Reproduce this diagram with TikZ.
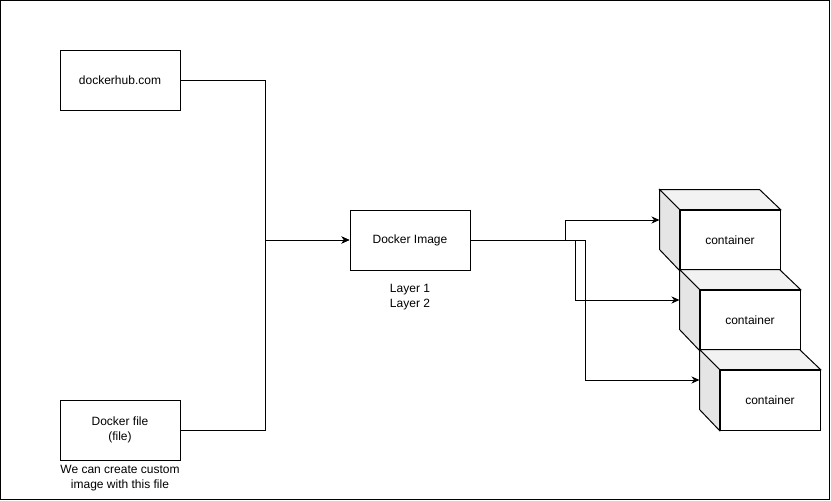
\documentclass[tikz,border=0pt]{standalone}
\usepackage{fontspec}
\setmainfont{Liberation Sans}
\usepackage{tikz}
\usetikzlibrary{positioning,arrows.meta}

\begin{document}
\begin{tikzpicture}[x=1pt, y=-1pt, line width=1pt,
    font=\fontsize{12}{15}\selectfont,
    box/.style={draw, fill=white, minimum width=120pt, minimum height=60pt, inner sep=0pt, align=center},
    front/.style={draw, fill=white, minimum width=100pt, minimum height=60pt, inner sep=0pt},
    topface/.style={draw, fill=black!5, line join=miter},
    sideface/.style={draw, fill=black!10, line join=miter},
    note/.style={inner sep=0pt, align=center},
    arr/.style={-{Stealth[length=8pt, width=7pt, inset=2.5pt]}, line width=1pt}]
  \useasboundingbox (0,0) rectangle (831,501);
  \draw (0.5,0.5) rectangle (829.5,499.5);

  \node[box] (hub) at (120,80) {dockerhub.com};
  \node[box] (df) at (120,430) {Docker file\\(file)};
  \node[note, below=4pt of df] (dfnote) {We can create custom\\image with this file};
  \node[box] (img) at (410,240) {Docker Image};
  \node[note, below=13pt of img] (layers) {Layer 1\\Layer 2};

  % containers
  \node[front] (c1) at (730,240) {container};
  \draw[topface] (c1.north west) -- ++(-20,-20) -- ++(100,0) -- (c1.north east) -- cycle;
  \draw[sideface] (c1.north west) -- ++(-20,-20) -- ++(0,60) -- (c1.south west) -- cycle;
  \node[front] (c2) at (750,320) {container};
  \draw[topface] (c2.north west) -- ++(-20,-20) -- ++(100,0) -- (c2.north east) -- cycle;
  \draw[sideface] (c2.north west) -- ++(-20,-20) -- ++(0,60) -- (c2.south west) -- cycle;
  \node[front] (c3) at (770,400) {container};
  \draw[topface] (c3.north west) -- ++(-20,-20) -- ++(100,0) -- (c3.north east) -- cycle;
  \draw[sideface] (c3.north west) -- ++(-20,-20) -- ++(0,60) -- (c3.south west) -- cycle;

  \draw[arr] (hub.east) -- ++(85,0) |- (img.west);
  \draw[arr] (df.east) -- ++(85,0) |- (img.west);
  \draw[arr] (img.east) -- ++(95,0) |- ([shift={(-20,-20)}]c1.west);
  \draw[arr] (img.east) -- ++(105,0) |- ([shift={(-20,-20)}]c2.west);
  \draw[arr] (img.east) -- ++(115,0) |- ([shift={(-20,-20)}]c3.west);
\end{tikzpicture}
\end{document}
